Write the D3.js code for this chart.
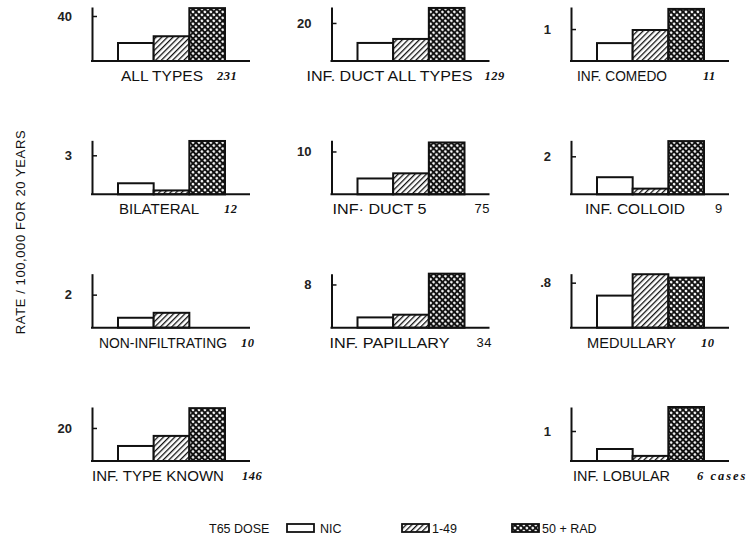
<!DOCTYPE html>
<html>
<head>
<meta charset="utf-8">
<script src="https://cdn.jsdelivr.net/npm/d3@7"></script>
<style>
  body { margin: 0; background: #fff; }
  svg { display: block; font-family: "Liberation Sans", Arial, sans-serif; }
</style>
</head>
<body>
<svg width="754" height="547"></svg>
<script>
// Rate / 100,000 for 20 years, by T65 dose, per histologic type
const titles = ["ALL TYPES", "INF. DUCT ALL TYPES", "INF. COMEDO",
  "BILATERAL", "INF\u00b7 DUCT 5", "INF. COLLOID",
  "NON-INFILTRATING", "INF. PAPILLARY", "MEDULLARY",
  "INF. TYPE KNOWN", "INF. LOBULAR"];
const counts = ["231", "129", "11", "12", "75", "9", "10", "34", "10", "146", "6 cases"];
const countItalic = [true, true, true, true, false, false, true, false, true, true, true];
const tickValues = [40, 20, 1, 3, 10, 2, 2, 8, 0.8, 20, 1];
const tickLabels = ["40", "20", "1", "3", "10", "2", "2", "8", ".8", "20", "1"];
const axisMax = [48, 28.4, 1.69, 4.15, 12.6, 2.84, 3.27, 10, 0.96, 32.7, 1.8];
const nic = [16, 9.5, 0.56, 0.85, 3.7, 0.9, 0.6, 1.9, 0.57, 9.1, 0.4];
const low = [22, 11.6, 0.97, 0.3, 4.9, 0.3, 0.9, 2.4, 0.95, 15.2, 0.17];
const high = [47, 27.9, 1.63, 4.1, 12.1, 2.8, 0, 10.0, 0.89, 32, 1.8];
const series = ["nic", "low", "high"];
const legendLabels = ["NIC", "1-49", "50 + RAD"];

// grid slot of each panel (slot 10 is empty)
const slots = [0, 1, 2, 3, 4, 5, 6, 7, 8, 9, 11];
// title / count offsets from the y axis, and title widths as printed
const titleDx = [29, -25, 6, 27, 1, 14, 7, -2, 16, 0, 2];
const titleW = [82, 166, 90, 80, 94, 100, 128, 120, 89, 132, 97];
const countDx = [125, 153, 132, 132, 143, 144, 149, 145, 130, 150, 126];

const svg = d3.select("svg");
const defs = svg.append("defs");

// diagonal hatch for 1-49
const hatch = defs.append("pattern")
  .attr("id", "hatch")
  .attr("patternUnits", "userSpaceOnUse")
  .attr("width", 4).attr("height", 4)
  .attr("patternTransform", "rotate(45)");
hatch.append("rect").attr("width", 4).attr("height", 4).attr("fill", "#fff");
hatch.append("line").attr("x1", 0).attr("y1", 0).attr("x2", 0).attr("y2", 4)
  .attr("stroke", "#111").attr("stroke-width", 2.6);

// dark crosshatch with white dots for 50+
const dots = defs.append("pattern")
  .attr("id", "dots")
  .attr("patternUnits", "userSpaceOnUse")
  .attr("width", 4.2).attr("height", 4.2)
  .attr("patternTransform", "rotate(45)");
dots.append("rect").attr("width", 4.2).attr("height", 4.2).attr("fill", "#111");
dots.append("circle").attr("cx", 2.1).attr("cy", 2.1).attr("r", 1.35).attr("fill", "#fff");

const fills = { nic: "#fff", low: "url(#hatch)", high: "url(#dots)" };

const colX = d3.scaleLinear().domain([0, 2]).range([92, 571]);
const rowY = d3.scaleLinear().domain([0, 3]).range([61, 461]);
const panelH = 54;
const baseW = 158;

titles.forEach((title, i) => {
  const col = slots[i] % 3;
  const row = Math.floor(slots[i] / 3);
  const ax = colX(col);
  const base = rowY(row);

  const x = d3.scaleBand().domain(series).range([ax + 26, ax + 133]).padding(0);
  const y = d3.scaleLinear().domain([0, axisMax[i]]).range([base, base - panelH]);

  const g = svg.append("g").attr("class", "panel");
  const vals = { nic: nic[i], low: low[i], high: high[i] };

  g.selectAll("rect.bar")
    .data(series.filter((s) => vals[s] > 0))
    .join("rect")
    .attr("class", "bar")
    .attr("x", (s) => x(s))
    .attr("y", (s) => y(vals[s]))
    .attr("width", x.bandwidth())
    .attr("height", (s) => y(0) - y(vals[s]))
    .attr("fill", (s) => fills[s])
    .attr("stroke", "#111")
    .attr("stroke-width", 2);

  // y axis with a single inward tick
  const yAxis = d3.axisLeft(y)
    .tickValues([tickValues[i]])
    .tickFormat(() => tickLabels[i])
    .tickSizeInner(-5)
    .tickSizeOuter(0)
    .tickPadding(20);
  const ag = g.append("g").attr("transform", `translate(${ax},0)`).call(yAxis);
  ag.select(".domain").attr("stroke", "#111").attr("stroke-width", 2);
  ag.selectAll(".tick line").attr("stroke", "#111").attr("stroke-width", 1.5);
  ag.selectAll(".tick text")
    .attr("font-size", 13).attr("font-weight", "bold").attr("fill", "#222")
    .attr("font-family", "'Liberation Sans', Arial, sans-serif");

  // baseline
  g.append("line")
    .attr("x1", ax - 1).attr("x2", ax + baseW)
    .attr("y1", base).attr("y2", base)
    .attr("stroke", "#111").attr("stroke-width", 2);

  g.append("text")
    .attr("x", ax + titleDx[i]).attr("y", base + 20)
    .attr("font-size", 14).attr("fill", "#111")
    .attr("textLength", titleW[i]).attr("lengthAdjust", "spacingAndGlyphs")
    .text(title);

  g.append("text")
    .attr("x", ax + countDx[i]).attr("y", base + 19)
    .attr("font-size", countItalic[i] ? 12.5 : 13)
    .attr("font-family", countItalic[i] ? "'Liberation Serif', serif" : "'Liberation Sans', Arial, sans-serif")
    .attr("font-style", countItalic[i] ? "italic" : "normal")
    .attr("font-weight", countItalic[i] ? "bold" : "normal")
    .attr("letter-spacing", i === 10 ? 2 : 0.5)
    .attr("fill", "#111")
    .text(counts[i]);
});

// y axis title
svg.append("text")
  .attr("transform", "translate(25,232) rotate(-90)")
  .attr("text-anchor", "middle")
  .attr("font-size", 13).attr("letter-spacing", 0.6).attr("fill", "#111")
  .text("RATE / 100,000 FOR 20 YEARS");

// legend
const legend = svg.append("g").attr("transform", "translate(0,528)");
legend.append("text").attr("x", 209).attr("y", 4.5)
  .attr("font-size", 12.5).attr("fill", "#111").text("T65 DOSE");
const legX = d3.scaleOrdinal().domain(series).range([287, 402, 512]);
const legItems = legend.selectAll("g.item").data(series).join("g").attr("class", "item")
  .attr("transform", (s) => `translate(${legX(s)},0)`);
legItems.append("rect")
  .attr("x", 0).attr("y", -4).attr("width", 27).attr("height", 8)
  .attr("fill", (s) => fills[s]).attr("stroke", "#111").attr("stroke-width", 1.8);
legItems.append("text")
  .attr("x", (s, k) => (k === 0 ? 33 : 30)).attr("y", 4.5)
  .attr("font-size", 12.5).attr("fill", "#111")
  .text((s, k) => legendLabels[k]);
</script>
</body>
</html>
